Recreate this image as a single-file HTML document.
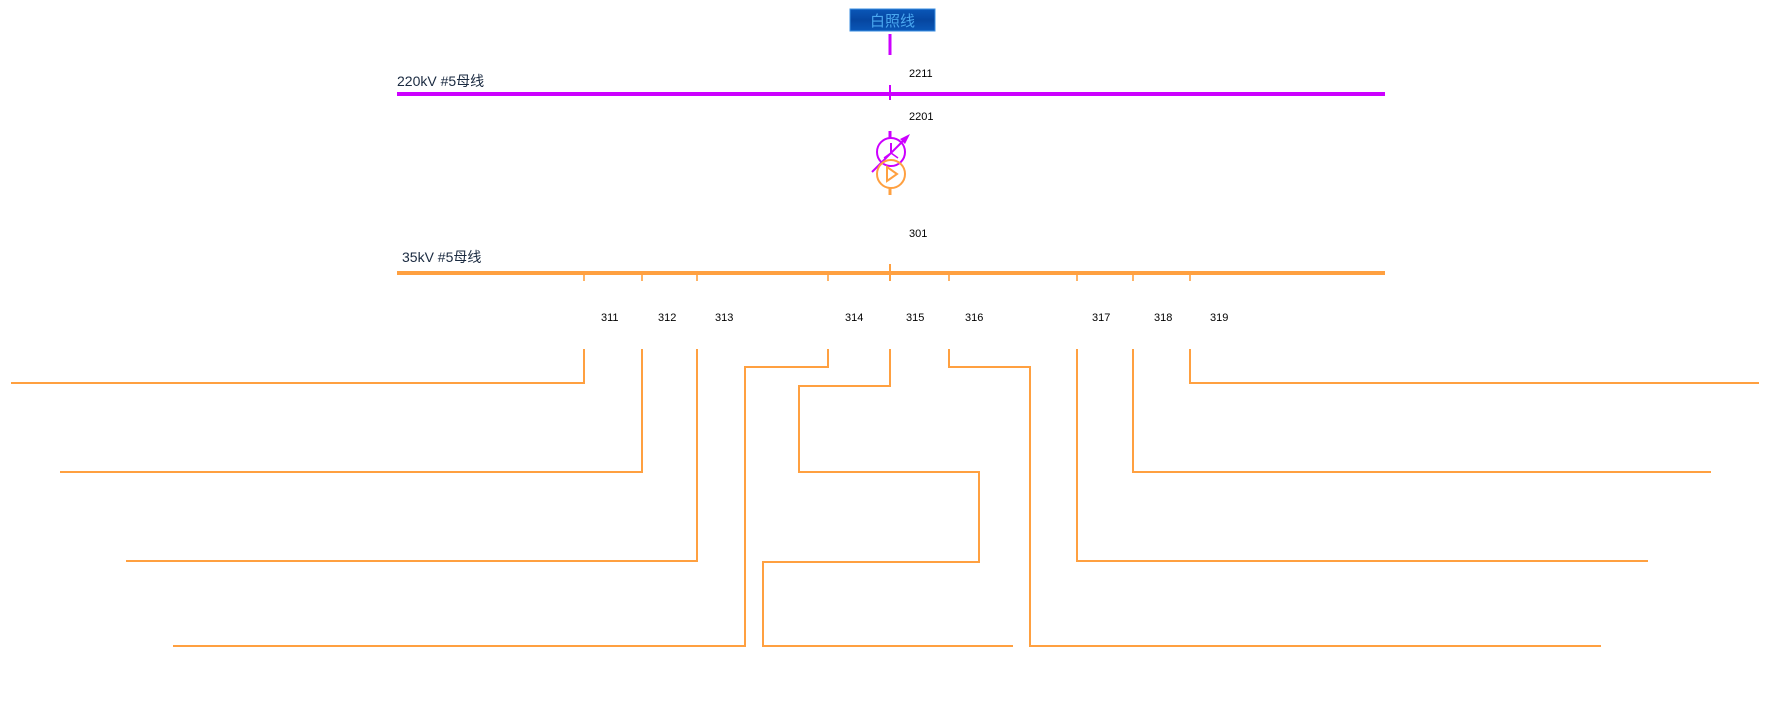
<!DOCTYPE html>
<html><head><meta charset="utf-8"><style>
html,body{margin:0;padding:0;background:#fff;}
svg{display:block}
text{font-family:"Liberation Sans","Noto Sans CJK SC",sans-serif;}
</style></head><body>
<svg width="1780" height="705" viewBox="0 0 1780 705" xmlns="http://www.w3.org/2000/svg">
<defs>
<linearGradient id="g" x1="0" y1="0" x2="0" y2="1"><stop offset="0" stop-color="#0a57b8"/><stop offset="0.5" stop-color="#0646a0"/><stop offset="1" stop-color="#0a57b8"/></linearGradient>
</defs>
<rect x="850" y="9" width="85" height="22" fill="url(#g)" stroke="#3a8ee0" stroke-width="1"/>
<text x="892.5" y="26" font-size="15" fill="#4aa8f0" text-anchor="middle">白照线</text>
<g stroke="#cc00ff" fill="none">
<line x1="890" y1="34" x2="890" y2="55" stroke-width="3"/>
<line x1="397" y1="94" x2="1385" y2="94" stroke-width="4"/>
<line x1="890" y1="85" x2="890" y2="100" stroke-width="2"/>
<line x1="890" y1="131" x2="890" y2="138" stroke-width="3"/>
<circle cx="891" cy="152" r="14" stroke-width="2"/>
<line x1="891" y1="143" x2="891" y2="153" stroke-width="2"/>
<line x1="891" y1="153" x2="884" y2="158" stroke-width="1.5"/>
<line x1="891" y1="153" x2="898" y2="158" stroke-width="1.5"/>
<line x1="872" y1="172" x2="906" y2="138" stroke-width="2"/>
</g>
<polygon points="910,134 900,139 905,144" fill="#cc00ff"/>
<text x="397" y="86" font-size="14" fill="#1a2a40">220kV #5母线</text>
<text x="909" y="77" font-size="11" fill="#000">2211</text>
<text x="909" y="120" font-size="11" fill="#000">2201</text>
<g stroke="#ffa040" fill="none" stroke-width="2">
<circle cx="891" cy="174" r="14"/>
<polygon points="887,167 887,181 897,174"/>
<line x1="890" y1="188" x2="890" y2="195" stroke-width="3"/>
</g>
<text x="909" y="237" font-size="11" fill="#000">301</text>
<text x="402" y="262" font-size="14" fill="#1a2a40">35kV #5母线</text>
<g stroke="#ffa040" fill="none">
<line x1="397" y1="273" x2="1385" y2="273" stroke-width="4"/>
<line x1="890" y1="264" x2="890" y2="281" stroke-width="2"/>
<g stroke-width="1.6">
<line x1="584" y1="273" x2="584" y2="281"/><line x1="642" y1="273" x2="642" y2="281"/><line x1="697" y1="273" x2="697" y2="281"/><line x1="828" y1="273" x2="828" y2="281"/><line x1="949" y1="273" x2="949" y2="281"/><line x1="1077" y1="273" x2="1077" y2="281"/><line x1="1133" y1="273" x2="1133" y2="281"/><line x1="1190" y1="273" x2="1190" y2="281"/>
</g>
<g stroke-width="2">
<polyline points="584,349 584,383 11,383"/>
<polyline points="642,349 642,472 60,472"/>
<polyline points="697,349 697,561 126,561"/>
<polyline points="828,349 828,367 745,367 745,646 173,646"/>
<polyline points="890,349 890,386 799,386 799,472 979,472 979,562 763,562 763,646 1013,646"/>
<polyline points="949,349 949,367 1030,367 1030,646 1601,646"/>
<polyline points="1077,349 1077,561 1648,561"/>
<polyline points="1133,349 1133,472 1711,472"/>
<polyline points="1190,349 1190,383 1759,383"/>
</g>
</g>
<g font-size="11" fill="#000">
<text x="601" y="321">311</text><text x="658" y="321">312</text><text x="715" y="321">313</text><text x="845" y="321">314</text><text x="906" y="321">315</text><text x="965" y="321">316</text><text x="1092" y="321">317</text><text x="1154" y="321">318</text><text x="1210" y="321">319</text>
</g>
</svg>
</body></html>
